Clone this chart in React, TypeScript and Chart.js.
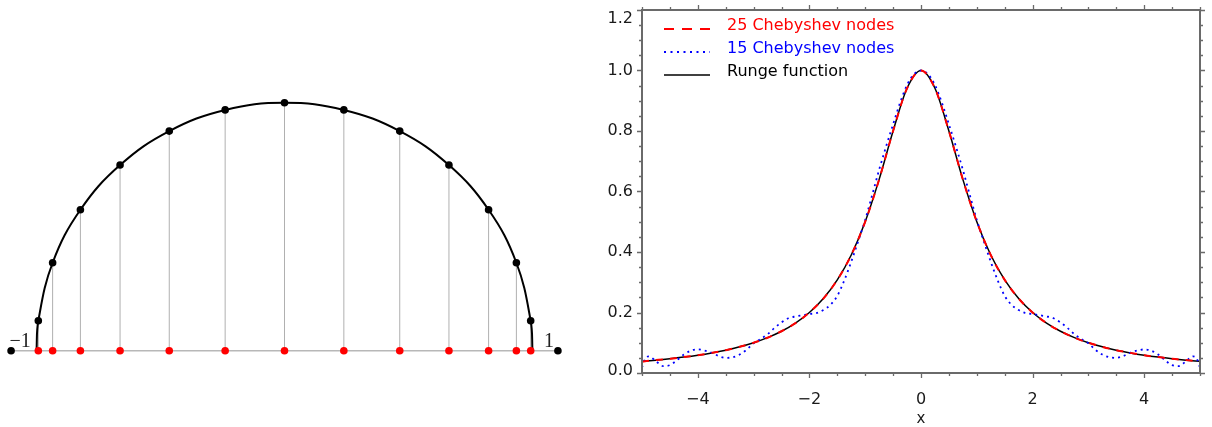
import React, { useEffect, useRef } from "react";
import { Chart, registerables } from "chart.js";

Chart.register(...registerables);

// ---------- Left panel: Chebyshev nodes on the semicircle ----------
const nodeX = [-0.9927, -0.935, -0.823, -0.6631, -0.4647, -0.2393, 0, 0.2393, 0.4647, 0.6631, 0.823, 0.935, 0.9927];
const nodeY = [0.1205, 0.3546, 0.5681, 0.7485, 0.8855, 0.9709, 1, 0.9709, 0.8855, 0.7485, 0.5681, 0.3546, 0.1205];
const arcEndX = [-1, 1];
const axisEndX = [-1.1025, 1.1025];
const axisEndLabels = ["\u22121", "1"];

// ---------- Right panel: Runge function and interpolants ----------
const rungeX = [
  -5, -4.75, -4.5, -4.25, -4, -3.75, -3.5, -3.25, -3, -2.75, -2.5, -2.25, -2, -1.75, -1.5, -1.25, -1, -0.75, -0.5, -0.25,
  0, 0.25, 0.5, 0.75, 1, 1.25, 1.5, 1.75, 2, 2.25, 2.5, 2.75, 3, 3.25, 3.5, 3.75, 4, 4.25, 4.5, 4.75, 5,
];
const rungeY = [
  0.0385, 0.0425, 0.0471, 0.0525, 0.0588, 0.0664, 0.0755, 0.0865, 0.1, 0.1168, 0.1379, 0.1649, 0.2, 0.2462, 0.3077, 0.3902, 0.5, 0.64, 0.8, 0.9412,
  1.0, 0.9412, 0.8, 0.64, 0.5, 0.3902, 0.3077, 0.2462, 0.2, 0.1649, 0.1379, 0.1168, 0.1, 0.0865, 0.0755, 0.0664, 0.0588, 0.0525, 0.0471, 0.0425, 0.0385,
];
const cheb25Y = [
  0.0375, 0.0428, 0.0469, 0.0527, 0.0587, 0.0665, 0.0754, 0.0866, 0.1, 0.1167, 0.138, 0.1648, 0.2001, 0.2461, 0.3078, 0.3901, 0.5001, 0.6399, 0.8001, 0.9411,
  1.0, 0.9411, 0.8001, 0.6399, 0.5001, 0.3901, 0.3078, 0.2461, 0.2001, 0.1648, 0.138, 0.1167, 0.1, 0.0866, 0.0754, 0.0665, 0.0587, 0.0527, 0.0469, 0.0428, 0.0375,
];
const cheb15X = [
  -5, -4.94, -4.875, -4.75, -4.625, -4.5, -4.375, -4.25, -4.125, -4, -3.875, -3.75, -3.625, -3.5, -3.375, -3.25, -3.125, -3,
  -2.875, -2.75, -2.625, -2.5, -2.375, -2.25, -2.125, -2, -1.875, -1.75, -1.625, -1.5, -1.375, -1.25, -1.125, -1, -0.875,
  -0.75, -0.625, -0.5, -0.375, -0.25, -0.125,
  0,
  0.125, 0.25, 0.375, 0.5, 0.625, 0.75, 0.875, 1, 1.125, 1.25, 1.375, 1.5, 1.625, 1.75, 1.875, 2, 2.125, 2.25, 2.375, 2.5,
  2.625, 2.75, 2.875, 3, 3.125, 3.25, 3.375, 3.5, 3.625, 3.75, 3.875, 4, 4.125, 4.25, 4.375, 4.5, 4.625, 4.75, 4.875, 4.94, 5,
];
const cheb15Y = [
  0.018, 0.048, 0.055, 0.039, 0.023, 0.026, 0.042, 0.061, 0.074, 0.078, 0.074, 0.067, 0.056, 0.05, 0.052, 0.061, 0.077, 0.098,
  0.112, 0.128, 0.149, 0.167, 0.181, 0.187, 0.191, 0.195, 0.198, 0.208, 0.225, 0.255, 0.306, 0.368, 0.436, 0.506, 0.588,
  0.672, 0.749, 0.822, 0.893, 0.952, 0.988,
  1.0,
  0.988, 0.952, 0.893, 0.822, 0.749, 0.672, 0.588, 0.506, 0.436, 0.368, 0.306, 0.255, 0.225, 0.208, 0.198, 0.195, 0.191, 0.187, 0.181, 0.167,
  0.149, 0.128, 0.112, 0.098, 0.077, 0.061, 0.052, 0.05, 0.056, 0.067, 0.074, 0.078, 0.074, 0.061, 0.042, 0.026, 0.023, 0.039, 0.055, 0.048, 0.018,
];
const seriesLabels = ["25 Chebyshev nodes", "15 Chebyshev nodes", "Runge function"];
const xTickValues = [-4, -2, 0, 2, 4];
const yTickValues = [0, 0.2, 0.4, 0.6, 0.8, 1.0, 1.2];
const xAxisTitle = "x";

const SANS = '"DejaVu Sans", sans-serif';
const RED = "rgb(255,0,0)";
const BLUE = "rgb(0,0,255)";

function leftConfig(): any {
  const vLines: any[] = [];
  nodeX.forEach((x, i) => {
    vLines.push({ x, y: 0 }, { x, y: nodeY[i] }, { x, y: null });
  });
  const arcData = [
    { x: arcEndX[0], y: 0 },
    ...nodeX.map((x, i) => ({ x, y: nodeY[i] })),
    { x: arcEndX[1], y: 0 },
  ];
  const labelPlugin = {
    id: "endLabels",
    afterDraw(chart: any) {
      const { ctx } = chart;
      const xs = chart.scales.x;
      const ys = chart.scales.y;
      ctx.save();
      ctx.font = '20px "Liberation Serif", serif';
      ctx.fillStyle = "#222";
      ctx.textAlign = "center";
      ctx.textBaseline = "alphabetic";
      axisEndX.forEach((v, i) => {
        const px = xs.getPixelForValue(v) + (i === 0 ? 9 : -9);
        const py = ys.getPixelForValue(0) - 4;
        ctx.fillText(axisEndLabels[i], px, py);
      });
      ctx.restore();
    },
  };
  return {
    type: "line",
    data: {
      datasets: [
        {
          data: nodeX.map((x) => ({ x, y: 0 })),
          showLine: false,
          pointRadius: 3.8,
          pointBackgroundColor: RED,
          pointBorderWidth: 0,
          order: 0,
        },
        {
          data: arcData,
          borderColor: "#000",
          borderWidth: 2,
          tension: 0.4,
          pointRadius: (c: any) => (c.dataIndex === 0 || c.dataIndex === arcData.length - 1 ? 0 : 3.8),
          pointBackgroundColor: "#000",
          pointBorderWidth: 0,
          order: 1,
        },
        {
          data: axisEndX.map((x) => ({ x, y: 0 })),
          borderColor: "#b8b8b8",
          borderWidth: 1.5,
          pointRadius: 3.8,
          pointBackgroundColor: "#000",
          pointBorderWidth: 0,
          order: 2,
        },
        {
          data: vLines,
          borderColor: "#b0b0b0",
          borderWidth: 1,
          pointRadius: 0,
          spanGaps: false,
          order: 3,
        },
      ],
    },
    options: {
      animation: false,
      responsive: false,
      layout: { padding: 0, autoPadding: false },
      plugins: { legend: { display: false }, tooltip: { enabled: false } },
      scales: {
        x: { type: "linear", min: -1.1472, max: 1.1472, display: false },
        y: { type: "linear", min: -0.3077, max: 1.4141, display: false },
      },
    },
    plugins: [labelPlugin],
  };
}

function rightConfig(): any {
  const framePlugin = {
    id: "frame",
    afterDatasetsDraw(chart: any) {
      const { ctx, chartArea } = chart;
      const { left, right, top, bottom } = chartArea;
      const xs = chart.scales.x;
      const ys = chart.scales.y;
      ctx.save();
      ctx.strokeStyle = "#6a6a6a";
      ctx.lineWidth = 2;
      ctx.strokeRect(left, top, right - left, bottom - top);
      ctx.lineWidth = 1.3;
      ctx.beginPath();
      for (let i = 0; i <= 20; i++) {
        const v = -5 + i * 0.5;
        const major = xTickValues.indexOf(v) >= 0;
        const len = major ? 5 : 3;
        const px = Math.round(xs.getPixelForValue(v)) + 0.5;
        ctx.moveTo(px, bottom);
        ctx.lineTo(px, bottom + len);
        ctx.moveTo(px, top);
        ctx.lineTo(px, top - len);
      }
      for (let i = 0; i <= 24; i++) {
        const v = i * 0.05;
        const major = i % 4 === 0;
        const len = major ? 5 : 3;
        const py = Math.round(ys.getPixelForValue(v)) + 0.5;
        ctx.moveTo(left, py);
        ctx.lineTo(left - len, py);
        ctx.moveTo(right, py);
        ctx.lineTo(right + len, py);
      }
      ctx.stroke();
      ctx.restore();
    },
  };
  const legendPlugin = {
    id: "inlineLegend",
    afterDraw(chart: any) {
      const { ctx, chartArea } = chart;
      const { left, top } = chartArea;
      ctx.save();
      ctx.font = "16px " + SANS;
      ctx.textAlign = "left";
      ctx.textBaseline = "alphabetic";
      chart.data.datasets.forEach((ds: any, i: number) => {
        const base = top + 20 + i * 23;
        ctx.strokeStyle = ds.borderColor;
        ctx.lineWidth = ds.borderWidth;
        ctx.setLineDash(ds.legendDash || []);
        ctx.beginPath();
        ctx.moveTo(left + 22, base - 1);
        ctx.lineTo(left + 68, base - 1);
        ctx.stroke();
        ctx.setLineDash([]);
        ctx.fillStyle = ds.legendText;
        ctx.fillText(ds.label, left + 85, base);
      });
      ctx.restore();
    },
  };
  const lastY = yTickValues.length - 1;
  return {
    type: "line",
    data: {
      datasets: [
        {
          label: seriesLabels[0],
          data: rungeX.map((x, i) => ({ x, y: cheb25Y[i] })),
          borderColor: RED,
          legendText: RED,
          legendDash: [10, 8],
          borderWidth: 2,
          borderDash: [7, 7],
          pointRadius: 0,
          cubicInterpolationMode: "monotone",
          order: 0,
        },
        {
          label: seriesLabels[1],
          data: cheb15X.map((x, i) => ({ x, y: cheb15Y[i] })),
          borderColor: BLUE,
          legendText: BLUE,
          legendDash: [2, 4.5],
          borderWidth: 1.8,
          borderDash: [2, 4],
          pointRadius: 0,
          cubicInterpolationMode: "monotone",
          order: 1,
        },
        {
          label: seriesLabels[2],
          data: rungeX.map((x, i) => ({ x, y: rungeY[i] })),
          borderColor: "#000",
          legendText: "#000",
          borderWidth: 1.5,
          pointRadius: 0,
          cubicInterpolationMode: "monotone",
          order: 2,
        },
      ],
    },
    options: {
      animation: false,
      responsive: false,
      layout: { padding: { left: 0, right: 12, top: 10, bottom: 0 }, autoPadding: false },
      plugins: { legend: { display: false }, tooltip: { enabled: false } },
      scales: {
        x: {
          type: "linear",
          min: -5,
          max: 5,
          afterBuildTicks: (s: any) => {
            s.ticks = xTickValues.map((v) => ({ value: v }));
          },
          afterFit: (s: any) => {
            s.height = 54;
            s.paddingLeft = 0;
            s.paddingRight = 0;
          },
          grid: { display: false, drawTicks: false },
          border: { display: false },
          ticks: {
            autoSkip: false,
            maxRotation: 0,
            padding: 17,
            color: "#1a1a1a",
            font: { family: SANS, size: 16 },
            callback: (v: any) => (Number(v) < 0 ? "\u2212" + Math.abs(Number(v)) : String(v)),
          },
          title: {
            display: true,
            text: xAxisTitle,
            color: "#1a1a1a",
            font: { family: SANS, size: 15, lineHeight: 1.1 },
            padding: { top: 0, bottom: 0 },
          },
        },
        y: {
          type: "linear",
          min: 0,
          max: 1.2,
          afterBuildTicks: (s: any) => {
            s.ticks = yTickValues.map((v) => ({ value: v }));
          },
          afterFit: (s: any) => {
            s.width = 62;
            s.paddingTop = 0;
            s.paddingBottom = 0;
          },
          grid: { display: false, drawTicks: false },
          border: { display: false },
          ticks: {
            autoSkip: false,
            padding: 9,
            color: "#1a1a1a",
            font: (c: any) => {
              const idx = c.index;
              if (idx === lastY) return { family: SANS, size: 16, lineHeight: "18px" };
              if (idx === 0) return { family: SANS, size: 16, lineHeight: "4px" };
              return { family: SANS, size: 16 };
            },
            callback: (v: any, idx: number) => {
              const s = Number(v).toFixed(1);
              if (idx === lastY) return ["", s];
              if (idx === 0) return [s, ""];
              return s;
            },
          },
        },
      },
    },
    plugins: [framePlugin, legendPlugin],
  };
}

export default function App() {
  const leftRef = useRef<HTMLCanvasElement>(null);
  const rightRef = useRef<HTMLCanvasElement>(null);
  useEffect(() => {
    const c1 = new Chart(leftRef.current as HTMLCanvasElement, leftConfig());
    const c2 = new Chart(rightRef.current as HTMLCanvasElement, rightConfig());
    return () => {
      c1.destroy();
      c2.destroy();
    };
  }, []);
  return (
    <div style={{ position: "absolute", left: 0, top: 0, width: 1212, height: 427, background: "#fff" }}>
      <canvas
        ref={leftRef}
        width={569}
        height={427}
        style={{ position: "absolute", left: 0, top: 0, width: 569, height: 427 }}
      />
      <canvas
        ref={rightRef}
        width={632}
        height={427}
        style={{ position: "absolute", left: 580, top: 0, width: 632, height: 427 }}
      />
    </div>
  );
}
